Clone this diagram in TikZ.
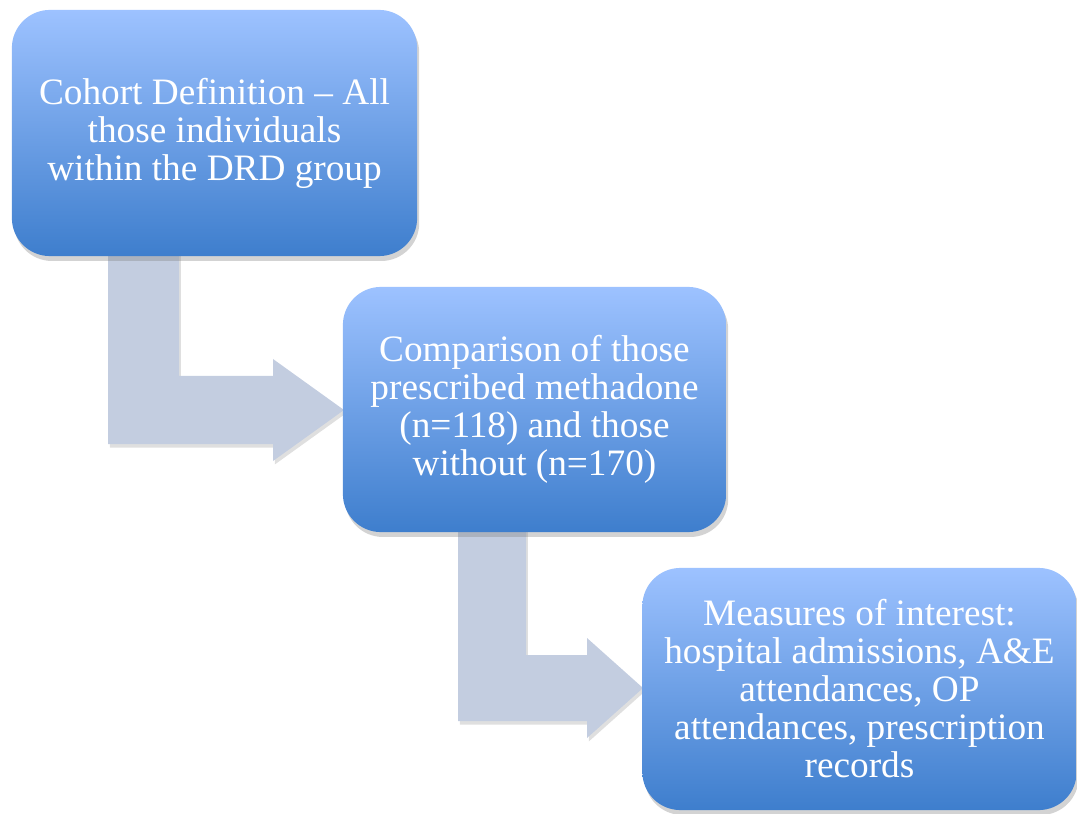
\documentclass[tikz,border=0pt]{standalone}
\usepackage{fontspec}
\setmainfont{Liberation Serif}
\usetikzlibrary{shadows}

\definecolor{boxtop}{RGB}{157,194,255}
\definecolor{boxbottom}{RGB}{62,126,205}
\definecolor{arrowfill}{RGB}{195,205,224}

\begin{document}
\begin{tikzpicture}[x=0.01cm, y=-0.01cm,
    stage/.style={rounded corners=0.38cm, top color=boxtop, bottom color=boxbottom,
      text=white, align=center, inner sep=0pt,
      font=\fontsize{10.6}{10.8}\selectfont,
      drop shadow={shadow xshift=0.6pt, shadow yshift=-1.4pt, opacity=0.35}},
    flow/.style={fill=arrowfill,
      drop shadow={shadow xshift=0.5pt, shadow yshift=-1pt, opacity=0.25}}]

  \useasboundingbox (0,0) rectangle (1077,813);

  % arrow tips
  \coordinate (tip1) at (344,410);
  \coordinate (tip2) at (643,688);

  % bent arrows
  \path[flow] (108,250) -- (179,250) -- (179,376) -- (273,376) -- (273,359)
    -- (tip1) -- (273,461) -- (273,444) -- (108,444) -- cycle;
  \path[flow] (458,526) -- (526,526) -- (526,655) -- (587,655) -- (587,638)
    -- (tip2) -- (587,738) -- (587,721) -- (458,721) -- cycle;

  % stages
  \node[stage, minimum width=4.05cm, minimum height=2.46cm] (cohort) at (214.5,133)
    {Cohort Definition -- All\\ those individuals\\ within the DRD group};
  \node[stage, minimum width=3.83cm, minimum height=2.45cm] (compare) at (534.5,409.5)
    {Comparison of those\\ prescribed methadone\\ (n=118) and those\\ without (n=170)};
  \node[stage, minimum width=4.34cm, minimum height=2.42cm] (measures) at (859.5,689)
    {Measures of interest:\\ hospital admissions, A\&E\\ attendances, OP\\ attendances, prescription\\ records};

\end{tikzpicture}
\end{document}
